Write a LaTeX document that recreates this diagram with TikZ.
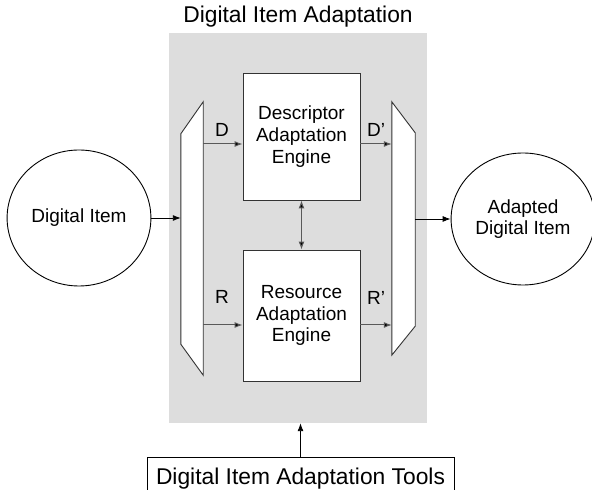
\documentclass[tikz,border=0pt]{standalone}
\usepackage{fontspec}
\setmainfont{Liberation Sans}
\usepackage{tikz}
\usetikzlibrary{shapes.geometric, arrows.meta, calc}
\definecolor{diagray}{RGB}{221,221,221}
\tikzstyle{panel} = [rectangle, minimum width=258pt, minimum height=390pt, fill=diagray, inner sep=0pt]
\tikzstyle{engine} = [rectangle, minimum width=117pt, text centered, align=center, draw=black!80, fill=white, line width=0.9pt, font=\fontsize{19}{21.7}\selectfont]
\tikzstyle{item} = [ellipse, text centered, align=center, draw=black, line width=0.9pt, font=\fontsize{19}{21.7}\selectfont]
\tikzstyle{switchbox} = [rectangle, inner sep=0pt]
\tikzstyle{switchline} = [draw=black!80, fill=white, line width=0.9pt]
\tikzstyle{tools} = [rectangle, minimum width=307pt, minimum height=44pt, text centered, draw=black, line width=0.9pt, font=\fontsize{22.8}{26}\selectfont]
\tikzstyle{lbl} = [inner sep=0pt, font=\fontsize{19}{21.7}\selectfont]
\tikzstyle{arrow} = [line width=0.9pt,->,>={Latex[length=8pt,width=6pt]}]
\tikzstyle{innerarrow} = [line width=1pt,->,>={Latex[length=8pt,width=6pt,fill=black]}, draw=black!65]

\begin{document}
\begin{tikzpicture}[x=1pt, y=1pt]
\useasboundingbox (0,0) rectangle (592,490);

% Nodes
\node (dia) [panel] at (298,262) {};
\node (title) [anchor=base, font=\fontsize{22.8}{26}\selectfont] at (298,467) {Digital Item Adaptation};
\node (desc) [engine, minimum height=127pt] at (301.5,353.5) {Descriptor\\Adaptation\\Engine};
\node (res) [engine, minimum height=131pt] at (301.5,174.5) {Resource\\Adaptation\\Engine};
\node (demux) [switchbox, minimum width=22pt, minimum height=273pt] at (192,251.5) {};
\node (mux) [switchbox, minimum width=23pt, minimum height=253pt] at (403.5,261.5) {};
\node (di) [item, minimum width=142pt, minimum height=136pt] at (79,272) {Digital Item};
\node (adi) [item, minimum width=134pt, minimum height=132pt] at (523,271) {Adapted\\Digital Item};
\node (tools) [tools] at (300.5,11) {Digital Item Adaptation Tools};

% switch shapes
\draw [switchline] (demux.north east) -- (demux.south east) -- ($(demux.south west)+(0,31)$) -- ($(demux.north west)+(0,-32)$) -- cycle;
\draw [switchline] (mux.north west) -- (mux.south west) -- ($(mux.south east)+(0,29)$) -- ($(mux.north east)+(0,-31)$) -- cycle;

% Labels
\node (dlbl) [lbl] at (222,360) {D};
\node (rlbl) [lbl] at (222,193.5) {R};
\node (dplbl) [lbl] at (376,360) {D’};
\node (rplbl) [lbl] at (376,192) {R’};

% Arrows
\draw [arrow] (di.east) -- (di.east -| demux.west);
\draw [innerarrow] ([yshift=-7.5pt]desc.west -| demux.east) -- ([yshift=-7.5pt]desc.west);
\draw [innerarrow] ([yshift=-9.5pt]res.west -| demux.east) -- ([yshift=-9.5pt]res.west);
\draw [innerarrow] ([yshift=-7.5pt]desc.east) -- ([yshift=-7.5pt]desc.east -| mux.west);
\draw [innerarrow] ([yshift=-9.5pt]res.east) -- ([yshift=-9.5pt]res.east -| mux.west);
\draw [innerarrow, <->] (desc.south) -- (res.north);
\draw [arrow] (mux.east |- adi.west) -- (adi.west);
\draw [arrow] (tools.north) -- (tools.north |- dia.south);

\end{tikzpicture}
\end{document}
